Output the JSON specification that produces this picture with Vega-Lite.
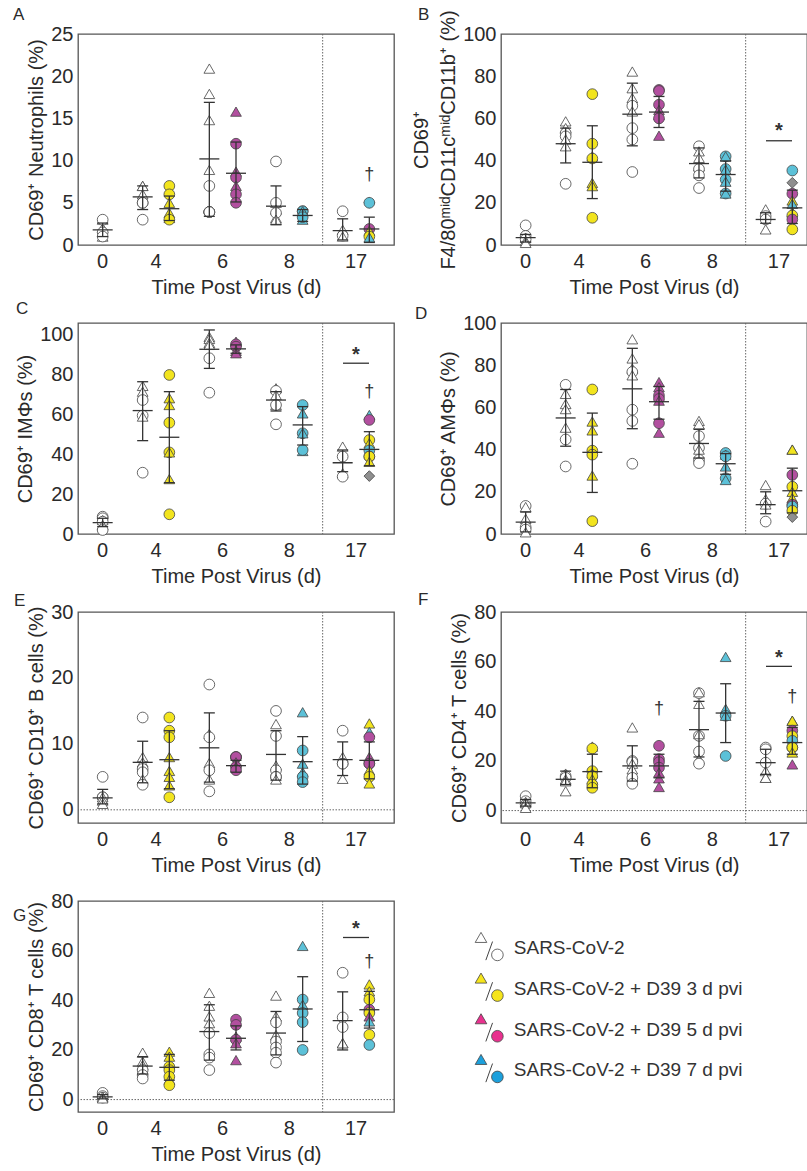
{
"$schema": "https://vega.github.io/schema/vega-lite/v6.json",
"background": "white",
"padding": {"left": 12, "top": 5, "right": 0, "bottom": 0},
"config": {
 "font": "Liberation Sans",
 "view": {"stroke": "#555555", "strokeWidth": 1.3},
 "axis": {"domain": false, "ticks": false, "grid": false, "labelFontSize": 20, "titleFontSize": 20, "labelColor": "#2a2a2a", "titleColor": "#2a2a2a", "titleFontWeight": "normal", "labelFont": "Liberation Sans", "titleFont": "Liberation Sans"},
 "axisX": {"labelPadding": 6, "titlePadding": 6, "labelAngle": 0},
 "axisY": {"labelPadding": 5, "titlePadding": 4},
 "title": {"fontSize": 17, "fontWeight": "normal", "anchor": "start", "frame": "group", "color": "#2a2a2a", "font": "Liberation Sans"}
},
"datasets": {
"pts": [
{"p":"A","d":0,"g":"V","c":"w","s":"t","v":3.0},{"p":"A","d":0,"g":"V","c":"w","s":"t","v":2.0},{"p":"A","d":0,"g":"V","c":"w","s":"t","v":1.0},{"p":"A","d":0,"g":"V","c":"w","s":"o","v":3.0},{"p":"A","d":0,"g":"V","c":"w","s":"o","v":1.5},{"p":"A","d":0,"g":"V","c":"w","s":"o","v":1.0},
{"p":"A","d":4,"g":"V","c":"w","s":"t","v":7.0},{"p":"A","d":4,"g":"V","c":"w","s":"t","v":7.0},{"p":"A","d":4,"g":"V","c":"w","s":"t","v":6.0},{"p":"A","d":4,"g":"V","c":"w","s":"o","v":5.0},{"p":"A","d":4,"g":"V","c":"w","s":"o","v":5.0},{"p":"A","d":4,"g":"V","c":"w","s":"o","v":3.0},
{"p":"A","d":4,"g":"T","c":"y","s":"o","v":7.0},{"p":"A","d":4,"g":"T","c":"y","s":"o","v":6.0},{"p":"A","d":4,"g":"T","c":"y","s":"t","v":5.0},{"p":"A","d":4,"g":"T","c":"y","s":"t","v":3.8},{"p":"A","d":4,"g":"T","c":"y","s":"t","v":3.2},{"p":"A","d":4,"g":"T","c":"y","s":"o","v":3.0},
{"p":"A","d":6,"g":"V","c":"w","s":"t","v":20.9},{"p":"A","d":6,"g":"V","c":"w","s":"t","v":17.9},{"p":"A","d":6,"g":"V","c":"w","s":"t","v":14.8},{"p":"A","d":6,"g":"V","c":"w","s":"t","v":8.9},{"p":"A","d":6,"g":"V","c":"w","s":"o","v":7.0},{"p":"A","d":6,"g":"V","c":"w","s":"o","v":3.9},{"p":"A","d":6,"g":"V","c":"w","s":"o","v":3.9},{"p":"A","d":6,"g":"V","c":"w","s":"o","v":3.9},{"p":"A","d":6,"g":"V","c":"w","s":"o","v":3.9},
{"p":"A","d":6,"g":"T","c":"m","s":"t","v":15.8},{"p":"A","d":6,"g":"T","c":"m","s":"o","v":12.0},{"p":"A","d":6,"g":"T","c":"m","s":"t","v":8.7},{"p":"A","d":6,"g":"T","c":"m","s":"o","v":8.0},{"p":"A","d":6,"g":"T","c":"m","s":"t","v":7.0},{"p":"A","d":6,"g":"T","c":"m","s":"o","v":6.0},{"p":"A","d":6,"g":"T","c":"m","s":"o","v":5.0},
{"p":"A","d":8,"g":"V","c":"w","s":"o","v":9.9},{"p":"A","d":8,"g":"V","c":"w","s":"t","v":5.0},{"p":"A","d":8,"g":"V","c":"w","s":"o","v":5.0},{"p":"A","d":8,"g":"V","c":"w","s":"t","v":4.2},{"p":"A","d":8,"g":"V","c":"w","s":"t","v":3.2},{"p":"A","d":8,"g":"V","c":"w","s":"o","v":3.8},{"p":"A","d":8,"g":"V","c":"w","s":"t","v":3.0},
{"p":"A","d":8,"g":"T","c":"c","s":"o","v":4.0},{"p":"A","d":8,"g":"T","c":"c","s":"o","v":4.0},{"p":"A","d":8,"g":"T","c":"c","s":"t","v":4.0},{"p":"A","d":8,"g":"T","c":"c","s":"t","v":3.0},{"p":"A","d":8,"g":"T","c":"c","s":"o","v":3.3},
{"p":"A","d":17,"g":"V","c":"w","s":"o","v":4.0},{"p":"A","d":17,"g":"V","c":"w","s":"t","v":1.8},{"p":"A","d":17,"g":"V","c":"w","s":"o","v":1.1},{"p":"A","d":17,"g":"V","c":"w","s":"t","v":1.0},
{"p":"A","d":17,"g":"T","c":"g","s":"d","v":5.0},{"p":"A","d":17,"g":"T","c":"c","s":"o","v":5.0},{"p":"A","d":17,"g":"T","c":"m","s":"o","v":1.9},{"p":"A","d":17,"g":"T","c":"y","s":"t","v":1.7},{"p":"A","d":17,"g":"T","c":"y","s":"o","v":1.0},{"p":"A","d":17,"g":"T","c":"c","s":"t","v":0.9},

{"p":"B","d":0,"g":"V","c":"w","s":"o","v":9.3},{"p":"B","d":0,"g":"V","c":"w","s":"o","v":4.3},{"p":"B","d":0,"g":"V","c":"w","s":"t","v":3.5},{"p":"B","d":0,"g":"V","c":"w","s":"o","v":2.7},{"p":"B","d":0,"g":"V","c":"w","s":"t","v":1.9},{"p":"B","d":0,"g":"V","c":"w","s":"t","v":1.0},
{"p":"B","d":4,"g":"V","c":"w","s":"t","v":58.6},{"p":"B","d":4,"g":"V","c":"w","s":"t","v":55.4},{"p":"B","d":4,"g":"V","c":"w","s":"o","v":53},{"p":"B","d":4,"g":"V","c":"w","s":"o","v":51.5},{"p":"B","d":4,"g":"V","c":"w","s":"t","v":50},{"p":"B","d":4,"g":"V","c":"w","s":"t","v":46.8},{"p":"B","d":4,"g":"V","c":"w","s":"o","v":29},
{"p":"B","d":4,"g":"T","c":"y","s":"o","v":71.5},{"p":"B","d":4,"g":"T","c":"y","s":"o","v":48},{"p":"B","d":4,"g":"T","c":"y","s":"t","v":42},{"p":"B","d":4,"g":"T","c":"y","s":"o","v":41},{"p":"B","d":4,"g":"T","c":"y","s":"t","v":29.4},{"p":"B","d":4,"g":"T","c":"y","s":"t","v":27.9},{"p":"B","d":4,"g":"T","c":"y","s":"o","v":12.9},
{"p":"B","d":6,"g":"V","c":"w","s":"t","v":82.2},{"p":"B","d":6,"g":"V","c":"w","s":"t","v":74.3},{"p":"B","d":6,"g":"V","c":"w","s":"t","v":69.6},{"p":"B","d":6,"g":"V","c":"w","s":"o","v":66},{"p":"B","d":6,"g":"V","c":"w","s":"t","v":63.3},{"p":"B","d":6,"g":"V","c":"w","s":"o","v":55.4},{"p":"B","d":6,"g":"V","c":"w","s":"o","v":50},{"p":"B","d":6,"g":"V","c":"w","s":"o","v":34.6},
{"p":"B","d":6,"g":"T","c":"m","s":"o","v":73.5},{"p":"B","d":6,"g":"T","c":"m","s":"o","v":73},{"p":"B","d":6,"g":"T","c":"m","s":"o","v":66.5},{"p":"B","d":6,"g":"T","c":"m","s":"t","v":64},{"p":"B","d":6,"g":"T","c":"m","s":"t","v":61.7},{"p":"B","d":6,"g":"T","c":"m","s":"o","v":60},{"p":"B","d":6,"g":"T","c":"m","s":"t","v":51.8},
{"p":"B","d":8,"g":"V","c":"w","s":"o","v":46.8},{"p":"B","d":8,"g":"V","c":"w","s":"t","v":44.4},{"p":"B","d":8,"g":"V","c":"w","s":"t","v":41.3},{"p":"B","d":8,"g":"V","c":"w","s":"t","v":37.3},{"p":"B","d":8,"g":"V","c":"w","s":"o","v":36},{"p":"B","d":8,"g":"V","c":"w","s":"o","v":33},{"p":"B","d":8,"g":"V","c":"w","s":"o","v":27},
{"p":"B","d":8,"g":"T","c":"c","s":"o","v":42},{"p":"B","d":8,"g":"T","c":"c","s":"t","v":42},{"p":"B","d":8,"g":"T","c":"c","s":"o","v":36},{"p":"B","d":8,"g":"T","c":"c","s":"t","v":35.7},{"p":"B","d":8,"g":"T","c":"c","s":"o","v":31},{"p":"B","d":8,"g":"T","c":"c","s":"t","v":30},{"p":"B","d":8,"g":"T","c":"c","s":"o","v":24.4},{"p":"B","d":8,"g":"T","c":"c","s":"t","v":24.4},
{"p":"B","d":17,"g":"V","c":"w","s":"t","v":16.9},{"p":"B","d":17,"g":"V","c":"w","s":"o","v":13.7},{"p":"B","d":17,"g":"V","c":"w","s":"o","v":12.1},{"p":"B","d":17,"g":"V","c":"w","s":"t","v":7.4},
{"p":"B","d":17,"g":"T","c":"c","s":"o","v":35.3},{"p":"B","d":17,"g":"T","c":"g","s":"d","v":29.5},{"p":"B","d":17,"g":"T","c":"m","s":"o","v":24.3},{"p":"B","d":17,"g":"T","c":"y","s":"t","v":21.1},{"p":"B","d":17,"g":"T","c":"c","s":"t","v":19.5},{"p":"B","d":17,"g":"T","c":"y","s":"t","v":15.6},{"p":"B","d":17,"g":"T","c":"y","s":"o","v":14},{"p":"B","d":17,"g":"T","c":"m","s":"o","v":12.1},{"p":"B","d":17,"g":"T","c":"y","s":"o","v":7.4},

{"p":"C","d":0,"g":"V","c":"w","s":"o","v":8.7},{"p":"C","d":0,"g":"V","c":"w","s":"o","v":7.9},{"p":"C","d":0,"g":"V","c":"w","s":"t","v":7.0},{"p":"C","d":0,"g":"V","c":"w","s":"o","v":6.2},{"p":"C","d":0,"g":"V","c":"w","s":"t","v":4.5},{"p":"C","d":0,"g":"V","c":"w","s":"o","v":2.0},
{"p":"C","d":4,"g":"V","c":"w","s":"t","v":74.4},{"p":"C","d":4,"g":"V","c":"w","s":"t","v":71.5},{"p":"C","d":4,"g":"V","c":"w","s":"o","v":67.3},{"p":"C","d":4,"g":"V","c":"w","s":"o","v":59.5},{"p":"C","d":4,"g":"V","c":"w","s":"t","v":59},{"p":"C","d":4,"g":"V","c":"w","s":"o","v":30.8},
{"p":"C","d":4,"g":"T","c":"y","s":"o","v":79.9},{"p":"C","d":4,"g":"T","c":"y","s":"t","v":68.2},{"p":"C","d":4,"g":"T","c":"y","s":"t","v":64.8},{"p":"C","d":4,"g":"T","c":"y","s":"o","v":55.9},{"p":"C","d":4,"g":"T","c":"y","s":"o","v":41},{"p":"C","d":4,"g":"T","c":"y","s":"t","v":41},{"p":"C","d":4,"g":"T","c":"y","s":"t","v":27.6},{"p":"C","d":4,"g":"T","c":"y","s":"o","v":9.9},
{"p":"C","d":6,"g":"V","c":"w","s":"t","v":99},{"p":"C","d":6,"g":"V","c":"w","s":"t","v":98},{"p":"C","d":6,"g":"V","c":"w","s":"t","v":96},{"p":"C","d":6,"g":"V","c":"w","s":"t","v":95},{"p":"C","d":6,"g":"V","c":"w","s":"o","v":88.3},{"p":"C","d":6,"g":"V","c":"w","s":"o","v":71},
{"p":"C","d":6,"g":"T","c":"m","s":"t","v":96.6},{"p":"C","d":6,"g":"T","c":"m","s":"o","v":95.3},{"p":"C","d":6,"g":"T","c":"m","s":"o","v":94.1},{"p":"C","d":6,"g":"T","c":"m","s":"t","v":92},{"p":"C","d":6,"g":"T","c":"m","s":"t","v":90.8},
{"p":"C","d":8,"g":"V","c":"w","s":"t","v":73.2},{"p":"C","d":8,"g":"V","c":"w","s":"o","v":71.9},{"p":"C","d":8,"g":"V","c":"w","s":"t","v":69.8},{"p":"C","d":8,"g":"V","c":"w","s":"t","v":64.8},{"p":"C","d":8,"g":"V","c":"w","s":"o","v":64.8},{"p":"C","d":8,"g":"V","c":"w","s":"o","v":55.1},
{"p":"C","d":8,"g":"T","c":"c","s":"o","v":64.8},{"p":"C","d":8,"g":"T","c":"c","s":"t","v":60.6},{"p":"C","d":8,"g":"T","c":"c","s":"o","v":50.6},{"p":"C","d":8,"g":"T","c":"c","s":"t","v":50.6},{"p":"C","d":8,"g":"T","c":"c","s":"t","v":41.7},{"p":"C","d":8,"g":"T","c":"c","s":"o","v":42.2},
{"p":"C","d":17,"g":"V","c":"w","s":"t","v":43.9},{"p":"C","d":17,"g":"V","c":"w","s":"o","v":38.9},{"p":"C","d":17,"g":"V","c":"w","s":"t","v":30.5},{"p":"C","d":17,"g":"V","c":"w","s":"o","v":28.8},
{"p":"C","d":17,"g":"T","c":"c","s":"t","v":59.8},{"p":"C","d":17,"g":"T","c":"m","s":"o","v":57.3},{"p":"C","d":17,"g":"T","c":"y","s":"o","v":47.2},{"p":"C","d":17,"g":"T","c":"y","s":"t","v":45.6},{"p":"C","d":17,"g":"T","c":"c","s":"o","v":42},{"p":"C","d":17,"g":"T","c":"m","s":"o","v":38.9},{"p":"C","d":17,"g":"T","c":"y","s":"o","v":38.9},{"p":"C","d":17,"g":"T","c":"y","s":"t","v":36.3},{"p":"C","d":17,"g":"T","c":"g","s":"d","v":29.1},

{"p":"D","d":0,"g":"V","c":"w","s":"o","v":13.3},{"p":"D","d":0,"g":"V","c":"w","s":"t","v":12.8},{"p":"D","d":0,"g":"V","c":"w","s":"t","v":7.2},{"p":"D","d":0,"g":"V","c":"w","s":"o","v":3.2},{"p":"D","d":0,"g":"V","c":"w","s":"o","v":2.1},{"p":"D","d":0,"g":"V","c":"w","s":"t","v":0.8},
{"p":"D","d":4,"g":"V","c":"w","s":"o","v":70.7},{"p":"D","d":4,"g":"V","c":"w","s":"t","v":66.4},{"p":"D","d":4,"g":"V","c":"w","s":"t","v":61.6},{"p":"D","d":4,"g":"V","c":"w","s":"t","v":59.2},{"p":"D","d":4,"g":"V","c":"w","s":"t","v":50.4},{"p":"D","d":4,"g":"V","c":"w","s":"o","v":44.8},{"p":"D","d":4,"g":"V","c":"w","s":"o","v":32},
{"p":"D","d":4,"g":"T","c":"y","s":"o","v":68.5},{"p":"D","d":4,"g":"T","c":"y","s":"t","v":53.3},{"p":"D","d":4,"g":"T","c":"y","s":"t","v":49.1},{"p":"D","d":4,"g":"T","c":"y","s":"o","v":39.5},{"p":"D","d":4,"g":"T","c":"y","s":"o","v":37.6},{"p":"D","d":4,"g":"T","c":"y","s":"t","v":27.7},{"p":"D","d":4,"g":"T","c":"y","s":"o","v":6.1},
{"p":"D","d":6,"g":"V","c":"w","s":"t","v":92.3},{"p":"D","d":6,"g":"V","c":"w","s":"t","v":83.2},{"p":"D","d":6,"g":"V","c":"w","s":"t","v":78.4},{"p":"D","d":6,"g":"V","c":"w","s":"o","v":76.8},{"p":"D","d":6,"g":"V","c":"w","s":"t","v":75.2},{"p":"D","d":6,"g":"V","c":"w","s":"o","v":58.9},{"p":"D","d":6,"g":"V","c":"w","s":"o","v":53.6},{"p":"D","d":6,"g":"V","c":"w","s":"o","v":33.3},
{"p":"D","d":6,"g":"T","c":"m","s":"t","v":72},{"p":"D","d":6,"g":"T","c":"m","s":"t","v":69.6},{"p":"D","d":6,"g":"T","c":"m","s":"o","v":65.6},{"p":"D","d":6,"g":"T","c":"m","s":"o","v":64},{"p":"D","d":6,"g":"T","c":"m","s":"t","v":63.2},{"p":"D","d":6,"g":"T","c":"m","s":"o","v":52.5},{"p":"D","d":6,"g":"T","c":"m","s":"t","v":48},
{"p":"D","d":8,"g":"V","c":"w","s":"t","v":53.6},{"p":"D","d":8,"g":"V","c":"w","s":"t","v":52},{"p":"D","d":8,"g":"V","c":"w","s":"o","v":46.4},{"p":"D","d":8,"g":"V","c":"w","s":"o","v":40.8},{"p":"D","d":8,"g":"V","c":"w","s":"t","v":40},{"p":"D","d":8,"g":"V","c":"w","s":"o","v":35.2},{"p":"D","d":8,"g":"V","c":"w","s":"o","v":33.6},
{"p":"D","d":8,"g":"T","c":"c","s":"o","v":38.4},{"p":"D","d":8,"g":"T","c":"c","s":"t","v":37.6},{"p":"D","d":8,"g":"T","c":"c","s":"o","v":36.8},{"p":"D","d":8,"g":"T","c":"c","s":"t","v":32},{"p":"D","d":8,"g":"T","c":"c","s":"o","v":26.4},{"p":"D","d":8,"g":"T","c":"c","s":"t","v":25.6},
{"p":"D","d":17,"g":"V","c":"w","s":"t","v":23.2},{"p":"D","d":17,"g":"V","c":"w","s":"t","v":16.5},{"p":"D","d":17,"g":"V","c":"w","s":"o","v":14.4},{"p":"D","d":17,"g":"V","c":"w","s":"t","v":14},{"p":"D","d":17,"g":"V","c":"w","s":"o","v":5.9},
{"p":"D","d":17,"g":"T","c":"c","s":"t","v":40},{"p":"D","d":17,"g":"T","c":"y","s":"t","v":40},{"p":"D","d":17,"g":"T","c":"m","s":"o","v":28},{"p":"D","d":17,"g":"T","c":"y","s":"o","v":22.4},{"p":"D","d":17,"g":"T","c":"y","s":"t","v":20},{"p":"D","d":17,"g":"T","c":"y","s":"t","v":17},{"p":"D","d":17,"g":"T","c":"m","s":"o","v":13.9},{"p":"D","d":17,"g":"T","c":"c","s":"o","v":13.1},{"p":"D","d":17,"g":"T","c":"y","s":"o","v":11},{"p":"D","d":17,"g":"T","c":"g","s":"d","v":8},

{"p":"E","d":0,"g":"V","c":"w","s":"o","v":5.0},{"p":"E","d":0,"g":"V","c":"w","s":"o","v":1.9},{"p":"E","d":0,"g":"V","c":"w","s":"o","v":1.9},{"p":"E","d":0,"g":"V","c":"w","s":"t","v":1.9},{"p":"E","d":0,"g":"V","c":"w","s":"t","v":1.4},{"p":"E","d":0,"g":"V","c":"w","s":"t","v":0.9},
{"p":"E","d":4,"g":"V","c":"w","s":"o","v":14},{"p":"E","d":4,"g":"V","c":"w","s":"t","v":8},{"p":"E","d":4,"g":"V","c":"w","s":"t","v":7.2},{"p":"E","d":4,"g":"V","c":"w","s":"o","v":6.2},{"p":"E","d":4,"g":"V","c":"w","s":"o","v":5.7},{"p":"E","d":4,"g":"V","c":"w","s":"t","v":4.6},{"p":"E","d":4,"g":"V","c":"w","s":"o","v":3.8},
{"p":"E","d":4,"g":"T","c":"y","s":"o","v":14},{"p":"E","d":4,"g":"T","c":"y","s":"o","v":12},{"p":"E","d":4,"g":"T","c":"y","s":"o","v":11},{"p":"E","d":4,"g":"T","c":"y","s":"t","v":8},{"p":"E","d":4,"g":"T","c":"y","s":"t","v":5.9},{"p":"E","d":4,"g":"T","c":"y","s":"t","v":5},{"p":"E","d":4,"g":"T","c":"y","s":"t","v":3.7},{"p":"E","d":4,"g":"T","c":"y","s":"o","v":1.9},
{"p":"E","d":6,"g":"V","c":"w","s":"o","v":19},{"p":"E","d":6,"g":"V","c":"w","s":"t","v":11.5},{"p":"E","d":6,"g":"V","c":"w","s":"o","v":11},{"p":"E","d":6,"g":"V","c":"w","s":"t","v":7.1},{"p":"E","d":6,"g":"V","c":"w","s":"o","v":6},{"p":"E","d":6,"g":"V","c":"w","s":"t","v":4.6},{"p":"E","d":6,"g":"V","c":"w","s":"o","v":2.8},
{"p":"E","d":6,"g":"T","c":"m","s":"o","v":8},{"p":"E","d":6,"g":"T","c":"m","s":"o","v":8},{"p":"E","d":6,"g":"T","c":"m","s":"o","v":8},{"p":"E","d":6,"g":"T","c":"m","s":"t","v":7.2},{"p":"E","d":6,"g":"T","c":"m","s":"o","v":6.5},{"p":"E","d":6,"g":"T","c":"m","s":"t","v":6.5},{"p":"E","d":6,"g":"T","c":"m","s":"o","v":6},
{"p":"E","d":8,"g":"V","c":"w","s":"o","v":15},{"p":"E","d":8,"g":"V","c":"w","s":"t","v":13},{"p":"E","d":8,"g":"V","c":"w","s":"o","v":11.2},{"p":"E","d":8,"g":"V","c":"w","s":"t","v":6.7},{"p":"E","d":8,"g":"V","c":"w","s":"o","v":6},{"p":"E","d":8,"g":"V","c":"w","s":"o","v":5},{"p":"E","d":8,"g":"V","c":"w","s":"o","v":5},{"p":"E","d":8,"g":"V","c":"w","s":"t","v":4.6},
{"p":"E","d":8,"g":"T","c":"c","s":"t","v":14.8},{"p":"E","d":8,"g":"T","c":"c","s":"o","v":9},{"p":"E","d":8,"g":"T","c":"c","s":"t","v":7},{"p":"E","d":8,"g":"T","c":"c","s":"t","v":5.7},{"p":"E","d":8,"g":"T","c":"c","s":"o","v":5},{"p":"E","d":8,"g":"T","c":"c","s":"o","v":4.2},
{"p":"E","d":17,"g":"V","c":"w","s":"o","v":12},{"p":"E","d":17,"g":"V","c":"w","s":"t","v":8},{"p":"E","d":17,"g":"V","c":"w","s":"o","v":7},{"p":"E","d":17,"g":"V","c":"w","s":"o","v":7},{"p":"E","d":17,"g":"V","c":"w","s":"t","v":4.7},
{"p":"E","d":17,"g":"T","c":"y","s":"t","v":13.1},{"p":"E","d":17,"g":"T","c":"c","s":"t","v":11.8},{"p":"E","d":17,"g":"T","c":"m","s":"o","v":11},{"p":"E","d":17,"g":"T","c":"m","s":"t","v":8},{"p":"E","d":17,"g":"T","c":"c","s":"o","v":7},{"p":"E","d":17,"g":"T","c":"m","s":"o","v":7},{"p":"E","d":17,"g":"T","c":"y","s":"t","v":6},{"p":"E","d":17,"g":"T","c":"y","s":"o","v":5},{"p":"E","d":17,"g":"T","c":"y","s":"t","v":4},

{"p":"F","d":0,"g":"V","c":"w","s":"o","v":5.8},{"p":"F","d":0,"g":"V","c":"w","s":"o","v":3.8},{"p":"F","d":0,"g":"V","c":"w","s":"o","v":2.4},{"p":"F","d":0,"g":"V","c":"w","s":"t","v":3.5},{"p":"F","d":0,"g":"V","c":"w","s":"t","v":3.0},{"p":"F","d":0,"g":"V","c":"w","s":"t","v":1.1},
{"p":"F","d":4,"g":"V","c":"w","s":"t","v":14.9},{"p":"F","d":4,"g":"V","c":"w","s":"o","v":13.9},{"p":"F","d":4,"g":"V","c":"w","s":"o","v":13.2},{"p":"F","d":4,"g":"V","c":"w","s":"t","v":12.6},{"p":"F","d":4,"g":"V","c":"w","s":"t","v":11.8},{"p":"F","d":4,"g":"V","c":"w","s":"t","v":7.8},
{"p":"F","d":4,"g":"T","c":"y","s":"t","v":25.8},{"p":"F","d":4,"g":"T","c":"y","s":"o","v":25},{"p":"F","d":4,"g":"T","c":"y","s":"o","v":15.9},{"p":"F","d":4,"g":"T","c":"y","s":"t","v":15},{"p":"F","d":4,"g":"T","c":"y","s":"o","v":13.9},{"p":"F","d":4,"g":"T","c":"y","s":"t","v":12.6},{"p":"F","d":4,"g":"T","c":"y","s":"o","v":10.5},{"p":"F","d":4,"g":"T","c":"y","s":"o","v":9.2},
{"p":"F","d":6,"g":"V","c":"w","s":"t","v":33.5},{"p":"F","d":6,"g":"V","c":"w","s":"o","v":20},{"p":"F","d":6,"g":"V","c":"w","s":"o","v":19.5},{"p":"F","d":6,"g":"V","c":"w","s":"t","v":18.9},{"p":"F","d":6,"g":"V","c":"w","s":"t","v":16.6},{"p":"F","d":6,"g":"V","c":"w","s":"o","v":13.2},{"p":"F","d":6,"g":"V","c":"w","s":"o","v":10.8},
{"p":"F","d":6,"g":"T","c":"m","s":"o","v":26.1},{"p":"F","d":6,"g":"T","c":"m","s":"o","v":20.7},{"p":"F","d":6,"g":"T","c":"m","s":"o","v":19.5},{"p":"F","d":6,"g":"T","c":"m","s":"o","v":17.3},{"p":"F","d":6,"g":"T","c":"m","s":"t","v":15.3},{"p":"F","d":6,"g":"T","c":"m","s":"t","v":13},{"p":"F","d":6,"g":"T","c":"m","s":"t","v":9.5},
{"p":"F","d":8,"g":"V","c":"w","s":"o","v":47.3},{"p":"F","d":8,"g":"V","c":"w","s":"t","v":47.7},{"p":"F","d":8,"g":"V","c":"w","s":"t","v":43},{"p":"F","d":8,"g":"V","c":"w","s":"o","v":30.1},{"p":"F","d":8,"g":"V","c":"w","s":"t","v":30.8},{"p":"F","d":8,"g":"V","c":"w","s":"o","v":23.8},{"p":"F","d":8,"g":"V","c":"w","s":"t","v":20.7},{"p":"F","d":8,"g":"V","c":"w","s":"o","v":18.9},
{"p":"F","d":8,"g":"T","c":"c","s":"t","v":61.9},{"p":"F","d":8,"g":"T","c":"c","s":"t","v":41},{"p":"F","d":8,"g":"T","c":"c","s":"o","v":38.2},{"p":"F","d":8,"g":"T","c":"c","s":"t","v":38.2},{"p":"F","d":8,"g":"T","c":"c","s":"o","v":22},
{"p":"F","d":17,"g":"V","c":"w","s":"o","v":25.4},{"p":"F","d":17,"g":"V","c":"w","s":"o","v":24.7},{"p":"F","d":17,"g":"V","c":"w","s":"o","v":19.3},{"p":"F","d":17,"g":"V","c":"w","s":"t","v":15.9},{"p":"F","d":17,"g":"V","c":"w","s":"t","v":13.2},{"p":"F","d":17,"g":"V","c":"w","s":"t","v":13.2},
{"p":"F","d":17,"g":"T","c":"c","s":"t","v":36.2},{"p":"F","d":17,"g":"T","c":"y","s":"t","v":36.2},{"p":"F","d":17,"g":"T","c":"m","s":"o","v":32.2},{"p":"F","d":17,"g":"T","c":"y","s":"o","v":30},{"p":"F","d":17,"g":"T","c":"c","s":"o","v":28.1},{"p":"F","d":17,"g":"T","c":"m","s":"o","v":25.4},{"p":"F","d":17,"g":"T","c":"y","s":"o","v":25.4},{"p":"F","d":17,"g":"T","c":"y","s":"t","v":23.4},{"p":"F","d":17,"g":"T","c":"m","s":"t","v":18.6},

{"p":"G","d":0,"g":"V","c":"w","s":"o","v":2.7},{"p":"G","d":0,"g":"V","c":"w","s":"o","v":1.4},{"p":"G","d":0,"g":"V","c":"w","s":"o","v":0.8},{"p":"G","d":0,"g":"V","c":"w","s":"t","v":1.1},{"p":"G","d":0,"g":"V","c":"w","s":"t","v":0.5},
{"p":"G","d":4,"g":"V","c":"w","s":"t","v":18.9},{"p":"G","d":4,"g":"V","c":"w","s":"t","v":15.3},{"p":"G","d":4,"g":"V","c":"w","s":"t","v":13.9},{"p":"G","d":4,"g":"V","c":"w","s":"o","v":11.9},{"p":"G","d":4,"g":"V","c":"w","s":"o","v":9.9},{"p":"G","d":4,"g":"V","c":"w","s":"o","v":8.5},
{"p":"G","d":4,"g":"T","c":"y","s":"t","v":19.3},{"p":"G","d":4,"g":"T","c":"y","s":"t","v":17.3},{"p":"G","d":4,"g":"T","c":"y","s":"o","v":13.2},{"p":"G","d":4,"g":"T","c":"y","s":"o","v":11.9},{"p":"G","d":4,"g":"T","c":"y","s":"o","v":9.2},{"p":"G","d":4,"g":"T","c":"y","s":"t","v":8},{"p":"G","d":4,"g":"T","c":"y","s":"o","v":5.8},
{"p":"G","d":6,"g":"V","c":"w","s":"t","v":43},{"p":"G","d":6,"g":"V","c":"w","s":"t","v":37.8},{"p":"G","d":6,"g":"V","c":"w","s":"t","v":33.5},{"p":"G","d":6,"g":"V","c":"w","s":"t","v":30.8},{"p":"G","d":6,"g":"V","c":"w","s":"o","v":26.8},{"p":"G","d":6,"g":"V","c":"w","s":"o","v":18.2},{"p":"G","d":6,"g":"V","c":"w","s":"o","v":16.9},{"p":"G","d":6,"g":"V","c":"w","s":"o","v":11.9},
{"p":"G","d":6,"g":"T","c":"m","s":"o","v":32.2},{"p":"G","d":6,"g":"T","c":"m","s":"o","v":30.1},{"p":"G","d":6,"g":"T","c":"m","s":"t","v":25.4},{"p":"G","d":6,"g":"T","c":"m","s":"o","v":24.1},{"p":"G","d":6,"g":"T","c":"m","s":"t","v":22.7},{"p":"G","d":6,"g":"T","c":"m","s":"t","v":15.9},
{"p":"G","d":8,"g":"V","c":"w","s":"t","v":41.9},{"p":"G","d":8,"g":"V","c":"w","s":"t","v":33.5},{"p":"G","d":8,"g":"V","c":"w","s":"t","v":26},{"p":"G","d":8,"g":"V","c":"w","s":"o","v":31.1},{"p":"G","d":8,"g":"V","c":"w","s":"o","v":23.4},{"p":"G","d":8,"g":"V","c":"w","s":"o","v":21},{"p":"G","d":8,"g":"V","c":"w","s":"o","v":18.9},{"p":"G","d":8,"g":"V","c":"w","s":"o","v":14.9},
{"p":"G","d":8,"g":"T","c":"c","s":"t","v":61.9},{"p":"G","d":8,"g":"T","c":"c","s":"o","v":40.3},{"p":"G","d":8,"g":"T","c":"c","s":"t","v":38.2},{"p":"G","d":8,"g":"T","c":"c","s":"o","v":34.9},{"p":"G","d":8,"g":"T","c":"c","s":"o","v":31.2},{"p":"G","d":8,"g":"T","c":"c","s":"o","v":20},
{"p":"G","d":17,"g":"V","c":"w","s":"o","v":51.1},{"p":"G","d":17,"g":"V","c":"w","s":"o","v":33.1},{"p":"G","d":17,"g":"V","c":"w","s":"o","v":29.2},{"p":"G","d":17,"g":"V","c":"w","s":"t","v":22.7},{"p":"G","d":17,"g":"V","c":"w","s":"t","v":22.7},
{"p":"G","d":17,"g":"T","c":"y","s":"t","v":46.4},{"p":"G","d":17,"g":"T","c":"y","s":"t","v":43.6},{"p":"G","d":17,"g":"T","c":"y","s":"o","v":40.3},{"p":"G","d":17,"g":"T","c":"m","s":"o","v":36.2},{"p":"G","d":17,"g":"T","c":"y","s":"o","v":34.9},{"p":"G","d":17,"g":"T","c":"m","s":"t","v":33.5},{"p":"G","d":17,"g":"T","c":"c","s":"t","v":31.5},{"p":"G","d":17,"g":"T","c":"y","s":"o","v":26.1},{"p":"G","d":17,"g":"T","c":"c","s":"o","v":22}
],
"sum": [
{"p":"A","d":0,"g":"V","m":1.8,"lo":1.0,"hi":2.6},{"p":"A","d":4,"g":"V","m":5.7,"lo":4.2,"hi":7.0},{"p":"A","d":4,"g":"T","m":4.3,"lo":2.9,"hi":5.8},{"p":"A","d":6,"g":"V","m":10.2,"lo":3.4,"hi":16.9},{"p":"A","d":6,"g":"T","m":8.5,"lo":5.1,"hi":12.2},{"p":"A","d":8,"g":"V","m":4.6,"lo":2.4,"hi":7.0},{"p":"A","d":8,"g":"T","m":3.5,"lo":2.8,"hi":4.2},{"p":"A","d":17,"g":"V","m":1.7,"lo":0.6,"hi":3.1},{"p":"A","d":17,"g":"T","m":1.9,"lo":0.3,"hi":3.3},
{"p":"B","d":0,"g":"V","m":3.5,"lo":1.4,"hi":5.0},{"p":"B","d":4,"g":"V","m":48,"lo":38.9,"hi":55.4},{"p":"B","d":4,"g":"T","m":39.2,"lo":22,"hi":56.5},{"p":"B","d":6,"g":"V","m":62,"lo":47,"hi":76.7},{"p":"B","d":6,"g":"T","m":63,"lo":55.7,"hi":70.4},{"p":"B","d":8,"g":"V","m":38.6,"lo":31.8,"hi":46},{"p":"B","d":8,"g":"T","m":33.4,"lo":25.5,"hi":39.8},{"p":"B","d":17,"g":"V","m":12.1,"lo":10.3,"hi":15.3},{"p":"B","d":17,"g":"T","m":17.6,"lo":10.2,"hi":26},
{"p":"C","d":0,"g":"V","m":5.7,"lo":3.7,"hi":7.9},{"p":"C","d":4,"g":"V","m":62,"lo":46.9,"hi":76.5},{"p":"C","d":4,"g":"T","m":48.6,"lo":25.8,"hi":71.5},{"p":"C","d":6,"g":"V","m":92.8,"lo":83.2,"hi":102.5},{"p":"C","d":6,"g":"T","m":93,"lo":90.8,"hi":95},{"p":"C","d":8,"g":"V","m":67.3,"lo":61.8,"hi":71.5},{"p":"C","d":8,"g":"T","m":54.8,"lo":44.7,"hi":64},{"p":"C","d":17,"g":"V","m":35.8,"lo":31.3,"hi":42.2},{"p":"C","d":17,"g":"T","m":42.5,"lo":34.3,"hi":51.4},
{"p":"D","d":0,"g":"V","m":5.6,"lo":1.0,"hi":10.4},{"p":"D","d":4,"g":"V","m":55,"lo":41.6,"hi":68.5},{"p":"D","d":4,"g":"T","m":38.7,"lo":19.7,"hi":57.3},{"p":"D","d":6,"g":"V","m":68.8,"lo":49.9,"hi":88},{"p":"D","d":6,"g":"T","m":62.7,"lo":54.4,"hi":69.9},{"p":"D","d":8,"g":"V","m":42.9,"lo":36,"hi":49.6},{"p":"D","d":8,"g":"T","m":33.3,"lo":28.3,"hi":38.1},{"p":"D","d":17,"g":"V","m":13.9,"lo":9.6,"hi":20},{"p":"D","d":17,"g":"T","m":20.5,"lo":10,"hi":31.2},
{"p":"E","d":0,"g":"V","m":1.8,"lo":0.9,"hi":3.1},{"p":"E","d":4,"g":"V","m":7.2,"lo":4.1,"hi":10.4},{"p":"E","d":4,"g":"T","m":7.6,"lo":3.2,"hi":12},{"p":"E","d":6,"g":"V","m":9.4,"lo":4.2,"hi":14.7},{"p":"E","d":6,"g":"T","m":6.7,"lo":5.7,"hi":7.5},{"p":"E","d":8,"g":"V","m":8.4,"lo":4.5,"hi":12},{"p":"E","d":8,"g":"T","m":7.3,"lo":3.9,"hi":11.1},{"p":"E","d":17,"g":"V","m":7.6,"lo":5.2,"hi":10.3},{"p":"E","d":17,"g":"T","m":7.5,"lo":4.7,"hi":10.3},
{"p":"F","d":0,"g":"V","m":3.1,"lo":1.8,"hi":4.5},{"p":"F","d":4,"g":"V","m":12.6,"lo":10.5,"hi":15.9},{"p":"F","d":4,"g":"T","m":15.7,"lo":9.2,"hi":22.7},{"p":"F","d":6,"g":"V","m":18,"lo":11.9,"hi":26.1},{"p":"F","d":6,"g":"T","m":18,"lo":13.2,"hi":22.7},{"p":"F","d":8,"g":"V","m":32.6,"lo":21.6,"hi":44},{"p":"F","d":8,"g":"T","m":39.3,"lo":27.4,"hi":51.1},{"p":"F","d":17,"g":"V","m":19.3,"lo":14.6,"hi":24.7},{"p":"F","d":17,"g":"T","m":27.4,"lo":22.7,"hi":33.5},
{"p":"G","d":0,"g":"V","m":1.1,"lo":0.3,"hi":2.0},{"p":"G","d":4,"g":"V","m":13.5,"lo":10.3,"hi":17.3},{"p":"G","d":4,"g":"T","m":13,"lo":7.8,"hi":18.2},{"p":"G","d":6,"g":"V","m":27.4,"lo":15.9,"hi":38.2},{"p":"G","d":6,"g":"T","m":24.7,"lo":20,"hi":29.7},{"p":"G","d":8,"g":"V","m":26.8,"lo":18,"hi":35.5},{"p":"G","d":8,"g":"T","m":36.5,"lo":23.4,"hi":49.5},{"p":"G","d":17,"g":"V","m":31.8,"lo":20,"hi":43.4},{"p":"G","d":17,"g":"T","m":36.2,"lo":28.8,"hi":43.6}
],
"ann": [
{"p":"A","d":17,"g":"T","t":"†","v":8.3},
{"p":"B","d":17,"g":"","t":"*","v":53.8},
{"p":"C","d":17,"g":"","t":"*","v":90},{"p":"C","d":17,"g":"T","t":"†","v":71.5},
{"p":"F","d":6,"g":"T","t":"†","v":41},{"p":"F","d":17,"g":"","t":"*","v":61.6},{"p":"F","d":17,"g":"T","t":"†","v":45.7},
{"p":"G","d":17,"g":"","t":"*","v":68.9},{"p":"G","d":17,"g":"T","t":"†","v":55.4}
],
"sig": [
{"p":"B","d":17,"g":"","v":49.4},{"p":"C","d":17,"g":"","v":85.8},{"p":"F","d":17,"g":"","v":58.1},{"p":"G","d":17,"g":"","v":65.3}
],
"leg": [
{"lab":"SARS-CoV-2"},{"lab":"SARS-CoV-2 + D39 3 d pvi"},{"lab":"SARS-CoV-2 + D39 5 d pvi"},{"lab":"SARS-CoV-2 + D39 7 d pvi"}
]
},
"columns": 2,
"spacing": {"row": 78, "column": 107},
"bounds": "flush",
"resolve": {"scale": {"fill": "independent", "shape": "independent"}},
"concat": [
{
 "width": 316, "height": 211,
 "title": {"text": "A", "dx": -65, "offset": 0},
 "layer": [
  {"data": {"values": [{}]}, "mark": {"type": "rule", "strokeDash": [1.5, 1.5], "color": "#666", "strokeWidth": 1}, "encoding": {"x": {"datum": "d1", "type": "nominal", "bandPosition": 1}}},
  {"data": {"name": "pts"}, "transform": [{"filter": "datum.p == 'A'"}, {"calculate": "datum.d == 0 ? '0' : datum.d + datum.g", "as": "slot"}],
   "mark": {"type": "point", "filled": true, "size": 115, "stroke": "#444", "strokeWidth": 0.8, "opacity": 1},
   "encoding": {
    "x": {"field": "slot", "type": "nominal", "scale": {"type": "band", "domain": ["pre","0","a1","a2","4V","4","4T","b1","b2","6V","6","6T","c1","c2","8V","8","8T","d1","d2","17V","17","17T","post"], "paddingInner": 0, "paddingOuter": 0.35}, "axis": {"values": ["0","4","6","8","17"], "title": "Time Post Virus (d)"}},
    "y": {"field": "v", "type": "quantitative", "scale": {"domain": [0, 25], "nice": false, "zero": false}, "axis": {"values": [0,5,10,15,20,25], "title": "CD69⁺ Neutrophils (%)"}},
    "shape": {"field": "s", "type": "nominal", "scale": {"domain": ["t","o","d"], "range": ["triangle-up","circle","diamond"]}, "legend": null},
    "fill": {"field": "c", "type": "nominal", "scale": {"domain": ["w","y","m","c","g"], "range": ["#ffffff","#f2e41e","#b24f9f","#5cc1d8","#8f8f8f"]}, "legend": null}
   }},
  {"data": {"name": "sum"}, "transform": [{"filter": "datum.p == 'A'"}, {"calculate": "datum.d == 0 ? '0' : datum.d + datum.g", "as": "slot"}], "mark": {"type": "rule", "color": "#333", "strokeWidth": 1.3}, "encoding": {"x": {"field": "slot", "type": "nominal"}, "y": {"field": "lo", "type": "quantitative"}, "y2": {"field": "hi"}}},
  {"data": {"name": "sum"}, "transform": [{"filter": "datum.p == 'A'"}, {"calculate": "datum.d == 0 ? '0' : datum.d + datum.g", "as": "slot"}], "mark": {"type": "tick", "orient": "horizontal", "size": 20, "thickness": 1.3, "color": "#333", "opacity": 1}, "encoding": {"x": {"field": "slot", "type": "nominal"}, "y": {"field": "m", "type": "quantitative"}}},
  {"data": {"name": "sum"}, "transform": [{"filter": "datum.p == 'A'"}, {"calculate": "datum.d == 0 ? '0' : datum.d + datum.g", "as": "slot"}], "mark": {"type": "tick", "orient": "horizontal", "size": 11, "thickness": 1.3, "color": "#333", "opacity": 1}, "encoding": {"x": {"field": "slot", "type": "nominal"}, "y": {"field": "lo", "type": "quantitative"}}},
  {"data": {"name": "sum"}, "transform": [{"filter": "datum.p == 'A'"}, {"calculate": "datum.d == 0 ? '0' : datum.d + datum.g", "as": "slot"}], "mark": {"type": "tick", "orient": "horizontal", "size": 11, "thickness": 1.3, "color": "#333", "opacity": 1}, "encoding": {"x": {"field": "slot", "type": "nominal"}, "y": {"field": "hi", "type": "quantitative"}}},
  {"data": {"name": "ann"}, "transform": [{"filter": "datum.p == 'A' && datum.t != '*'"}, {"calculate": "datum.d + datum.g", "as": "slot"}], "mark": {"type": "text", "fontSize": 18, "baseline": "middle", "color": "#333"}, "encoding": {"x": {"field": "slot", "type": "nominal"}, "y": {"field": "v", "type": "quantitative"}, "text": {"field": "t"}}}
 ]
},
{
 "width": 306, "height": 211,
 "title": {"text": "B", "dx": -83, "offset": -14},
 "layer": [
  {"data": {"values": [{}]}, "mark": {"type": "rule", "strokeDash": [1.5, 1.5], "color": "#666", "strokeWidth": 1}, "encoding": {"x": {"datum": "d1", "type": "nominal", "bandPosition": 1}}},
  {"data": {"name": "pts"}, "transform": [{"filter": "datum.p == 'B'"}, {"calculate": "datum.d == 0 ? '0' : datum.d + datum.g", "as": "slot"}],
   "mark": {"type": "point", "filled": true, "size": 115, "stroke": "#444", "strokeWidth": 0.8, "opacity": 1},
   "encoding": {
    "x": {"field": "slot", "type": "nominal", "scale": {"type": "band", "domain": ["0","a1","a2","4V","4","4T","b1","b2","6V","6","6T","c1","c2","8V","8","8T","d1","d2","17V","17","17T"], "paddingInner": 0, "paddingOuter": 0.975, "align": 0.692}, "axis": {"values": ["0","4","6","8","17"], "title": "Time Post Virus (d)"}},
    "y": {"field": "v", "type": "quantitative", "scale": {"domain": [0, 100], "nice": false, "zero": false}, "axis": {"values": [0,20,40,60,80,100], "title": ["CD69⁺", "F4/80ᵐⁱᵈCD11cᵐⁱᵈCD11b⁺ (%)"], "titleLineHeight": 27}},
    "shape": {"field": "s", "type": "nominal", "scale": {"domain": ["t","o","d"], "range": ["triangle-up","circle","diamond"]}, "legend": null},
    "fill": {"field": "c", "type": "nominal", "scale": {"domain": ["w","y","m","c","g"], "range": ["#ffffff","#f2e41e","#b24f9f","#5cc1d8","#8f8f8f"]}, "legend": null}
   }},
  {"data": {"name": "sum"}, "transform": [{"filter": "datum.p == 'B'"}, {"calculate": "datum.d == 0 ? '0' : datum.d + datum.g", "as": "slot"}], "mark": {"type": "rule", "color": "#333", "strokeWidth": 1.3}, "encoding": {"x": {"field": "slot", "type": "nominal"}, "y": {"field": "lo", "type": "quantitative"}, "y2": {"field": "hi"}}},
  {"data": {"name": "sum"}, "transform": [{"filter": "datum.p == 'B'"}, {"calculate": "datum.d == 0 ? '0' : datum.d + datum.g", "as": "slot"}], "mark": {"type": "tick", "orient": "horizontal", "size": 20, "thickness": 1.3, "color": "#333", "opacity": 1}, "encoding": {"x": {"field": "slot", "type": "nominal"}, "y": {"field": "m", "type": "quantitative"}}},
  {"data": {"name": "sum"}, "transform": [{"filter": "datum.p == 'B'"}, {"calculate": "datum.d == 0 ? '0' : datum.d + datum.g", "as": "slot"}], "mark": {"type": "tick", "orient": "horizontal", "size": 11, "thickness": 1.3, "color": "#333", "opacity": 1}, "encoding": {"x": {"field": "slot", "type": "nominal"}, "y": {"field": "lo", "type": "quantitative"}}},
  {"data": {"name": "sum"}, "transform": [{"filter": "datum.p == 'B'"}, {"calculate": "datum.d == 0 ? '0' : datum.d + datum.g", "as": "slot"}], "mark": {"type": "tick", "orient": "horizontal", "size": 11, "thickness": 1.3, "color": "#333", "opacity": 1}, "encoding": {"x": {"field": "slot", "type": "nominal"}, "y": {"field": "hi", "type": "quantitative"}}},
  {"data": {"name": "sig"}, "transform": [{"filter": "datum.p == 'B'"}, {"calculate": "datum.d + datum.g", "as": "slot"}], "mark": {"type": "tick", "orient": "horizontal", "size": 26, "thickness": 1.3, "color": "#333", "opacity": 1}, "encoding": {"x": {"field": "slot", "type": "nominal"}, "y": {"field": "v", "type": "quantitative"}}},
  {"data": {"name": "ann"}, "transform": [{"filter": "datum.p == 'B' && datum.t == '*'"}, {"calculate": "datum.d + datum.g", "as": "slot"}], "mark": {"type": "text", "fontSize": 20, "fontWeight": "bold", "baseline": "middle", "color": "#333"}, "encoding": {"x": {"field": "slot", "type": "nominal"}, "y": {"field": "v", "type": "quantitative"}, "text": {"field": "t"}}}
 ]
},
{
 "width": 316, "height": 211,
 "title": {"text": "C", "dx": -62, "offset": 5},
 "layer": [
  {"data": {"values": [{}]}, "mark": {"type": "rule", "strokeDash": [1.5, 1.5], "color": "#666", "strokeWidth": 1}, "encoding": {"x": {"datum": "d1", "type": "nominal", "bandPosition": 1}}},
  {"data": {"name": "pts"}, "transform": [{"filter": "datum.p == 'C'"}, {"calculate": "datum.d == 0 ? '0' : datum.d + datum.g", "as": "slot"}],
   "mark": {"type": "point", "filled": true, "size": 115, "stroke": "#444", "strokeWidth": 0.8, "opacity": 1},
   "encoding": {
    "x": {"field": "slot", "type": "nominal", "scale": {"type": "band", "domain": ["pre","0","a1","a2","4V","4","4T","b1","b2","6V","6","6T","c1","c2","8V","8","8T","d1","d2","17V","17","17T","post"], "paddingInner": 0, "paddingOuter": 0.35}, "axis": {"values": ["0","4","6","8","17"], "title": "Time Post Virus (d)"}},
    "y": {"field": "v", "type": "quantitative", "scale": {"domain": [0, 106], "nice": false, "zero": false}, "axis": {"values": [0,20,40,60,80,100], "title": "CD69⁺ IMΦs (%)"}},
    "shape": {"field": "s", "type": "nominal", "scale": {"domain": ["t","o","d"], "range": ["triangle-up","circle","diamond"]}, "legend": null},
    "fill": {"field": "c", "type": "nominal", "scale": {"domain": ["w","y","m","c","g"], "range": ["#ffffff","#f2e41e","#b24f9f","#5cc1d8","#8f8f8f"]}, "legend": null}
   }},
  {"data": {"name": "sum"}, "transform": [{"filter": "datum.p == 'C'"}, {"calculate": "datum.d == 0 ? '0' : datum.d + datum.g", "as": "slot"}], "mark": {"type": "rule", "color": "#333", "strokeWidth": 1.3}, "encoding": {"x": {"field": "slot", "type": "nominal"}, "y": {"field": "lo", "type": "quantitative"}, "y2": {"field": "hi"}}},
  {"data": {"name": "sum"}, "transform": [{"filter": "datum.p == 'C'"}, {"calculate": "datum.d == 0 ? '0' : datum.d + datum.g", "as": "slot"}], "mark": {"type": "tick", "orient": "horizontal", "size": 20, "thickness": 1.3, "color": "#333", "opacity": 1}, "encoding": {"x": {"field": "slot", "type": "nominal"}, "y": {"field": "m", "type": "quantitative"}}},
  {"data": {"name": "sum"}, "transform": [{"filter": "datum.p == 'C'"}, {"calculate": "datum.d == 0 ? '0' : datum.d + datum.g", "as": "slot"}], "mark": {"type": "tick", "orient": "horizontal", "size": 11, "thickness": 1.3, "color": "#333", "opacity": 1}, "encoding": {"x": {"field": "slot", "type": "nominal"}, "y": {"field": "lo", "type": "quantitative"}}},
  {"data": {"name": "sum"}, "transform": [{"filter": "datum.p == 'C'"}, {"calculate": "datum.d == 0 ? '0' : datum.d + datum.g", "as": "slot"}], "mark": {"type": "tick", "orient": "horizontal", "size": 11, "thickness": 1.3, "color": "#333", "opacity": 1}, "encoding": {"x": {"field": "slot", "type": "nominal"}, "y": {"field": "hi", "type": "quantitative"}}},
  {"data": {"name": "sig"}, "transform": [{"filter": "datum.p == 'C'"}, {"calculate": "datum.d + datum.g", "as": "slot"}], "mark": {"type": "tick", "orient": "horizontal", "size": 26, "thickness": 1.3, "color": "#333", "opacity": 1}, "encoding": {"x": {"field": "slot", "type": "nominal"}, "y": {"field": "v", "type": "quantitative"}}},
  {"data": {"name": "ann"}, "transform": [{"filter": "datum.p == 'C' && datum.t == '*'"}, {"calculate": "datum.d + datum.g", "as": "slot"}], "mark": {"type": "text", "fontSize": 20, "fontWeight": "bold", "baseline": "middle", "color": "#333"}, "encoding": {"x": {"field": "slot", "type": "nominal"}, "y": {"field": "v", "type": "quantitative"}, "text": {"field": "t"}}},
  {"data": {"name": "ann"}, "transform": [{"filter": "datum.p == 'C' && datum.t != '*'"}, {"calculate": "datum.d + datum.g", "as": "slot"}], "mark": {"type": "text", "fontSize": 18, "baseline": "middle", "color": "#333"}, "encoding": {"x": {"field": "slot", "type": "nominal"}, "y": {"field": "v", "type": "quantitative"}, "text": {"field": "t"}}}
 ]
},
{
 "width": 306, "height": 211,
 "title": {"text": "D", "dx": -86, "offset": -10},
 "layer": [
  {"data": {"values": [{}]}, "mark": {"type": "rule", "strokeDash": [1.5, 1.5], "color": "#666", "strokeWidth": 1}, "encoding": {"x": {"datum": "d1", "type": "nominal", "bandPosition": 1}}},
  {"data": {"name": "pts"}, "transform": [{"filter": "datum.p == 'D'"}, {"calculate": "datum.d == 0 ? '0' : datum.d + datum.g", "as": "slot"}],
   "mark": {"type": "point", "filled": true, "size": 115, "stroke": "#444", "strokeWidth": 0.8, "opacity": 1},
   "encoding": {
    "x": {"field": "slot", "type": "nominal", "scale": {"type": "band", "domain": ["0","a1","a2","4V","4","4T","b1","b2","6V","6","6T","c1","c2","8V","8","8T","d1","d2","17V","17","17T"], "paddingInner": 0, "paddingOuter": 0.975, "align": 0.692}, "axis": {"values": ["0","4","6","8","17"], "title": "Time Post Virus (d)"}},
    "y": {"field": "v", "type": "quantitative", "scale": {"domain": [0, 100], "nice": false, "zero": false}, "axis": {"values": [0,20,40,60,80,100], "title": "CD69⁺ AMΦs (%)"}},
    "shape": {"field": "s", "type": "nominal", "scale": {"domain": ["t","o","d"], "range": ["triangle-up","circle","diamond"]}, "legend": null},
    "fill": {"field": "c", "type": "nominal", "scale": {"domain": ["w","y","m","c","g"], "range": ["#ffffff","#f2e41e","#b24f9f","#5cc1d8","#8f8f8f"]}, "legend": null}
   }},
  {"data": {"name": "sum"}, "transform": [{"filter": "datum.p == 'D'"}, {"calculate": "datum.d == 0 ? '0' : datum.d + datum.g", "as": "slot"}], "mark": {"type": "rule", "color": "#333", "strokeWidth": 1.3}, "encoding": {"x": {"field": "slot", "type": "nominal"}, "y": {"field": "lo", "type": "quantitative"}, "y2": {"field": "hi"}}},
  {"data": {"name": "sum"}, "transform": [{"filter": "datum.p == 'D'"}, {"calculate": "datum.d == 0 ? '0' : datum.d + datum.g", "as": "slot"}], "mark": {"type": "tick", "orient": "horizontal", "size": 20, "thickness": 1.3, "color": "#333", "opacity": 1}, "encoding": {"x": {"field": "slot", "type": "nominal"}, "y": {"field": "m", "type": "quantitative"}}},
  {"data": {"name": "sum"}, "transform": [{"filter": "datum.p == 'D'"}, {"calculate": "datum.d == 0 ? '0' : datum.d + datum.g", "as": "slot"}], "mark": {"type": "tick", "orient": "horizontal", "size": 11, "thickness": 1.3, "color": "#333", "opacity": 1}, "encoding": {"x": {"field": "slot", "type": "nominal"}, "y": {"field": "lo", "type": "quantitative"}}},
  {"data": {"name": "sum"}, "transform": [{"filter": "datum.p == 'D'"}, {"calculate": "datum.d == 0 ? '0' : datum.d + datum.g", "as": "slot"}], "mark": {"type": "tick", "orient": "horizontal", "size": 11, "thickness": 1.3, "color": "#333", "opacity": 1}, "encoding": {"x": {"field": "slot", "type": "nominal"}, "y": {"field": "hi", "type": "quantitative"}}}
 ]
},
{
 "width": 316, "height": 211,
 "title": {"text": "E", "dx": -64, "offset": -8},
 "layer": [
  {"data": {"values": [{}]}, "mark": {"type": "rule", "strokeDash": [1.5, 1.5], "color": "#666", "strokeWidth": 1}, "encoding": {"x": {"datum": "d1", "type": "nominal", "bandPosition": 1}}},
  {"data": {"values": [{}]}, "mark": {"type": "rule", "strokeDash": [1.5, 1.5], "color": "#666", "strokeWidth": 1}, "encoding": {"y": {"datum": 0, "type": "quantitative"}}},
  {"data": {"name": "pts"}, "transform": [{"filter": "datum.p == 'E'"}, {"calculate": "datum.d == 0 ? '0' : datum.d + datum.g", "as": "slot"}],
   "mark": {"type": "point", "filled": true, "size": 115, "stroke": "#444", "strokeWidth": 0.8, "opacity": 1},
   "encoding": {
    "x": {"field": "slot", "type": "nominal", "scale": {"type": "band", "domain": ["pre","0","a1","a2","4V","4","4T","b1","b2","6V","6","6T","c1","c2","8V","8","8T","d1","d2","17V","17","17T","post"], "paddingInner": 0, "paddingOuter": 0.35}, "axis": {"values": ["0","4","6","8","17"], "title": "Time Post Virus (d)"}},
    "y": {"field": "v", "type": "quantitative", "scale": {"domain": [-2, 30], "nice": false, "zero": false}, "axis": {"values": [0,10,20,30], "title": "CD69⁺ CD19⁺ B cells (%)"}},
    "shape": {"field": "s", "type": "nominal", "scale": {"domain": ["t","o","d"], "range": ["triangle-up","circle","diamond"]}, "legend": null},
    "fill": {"field": "c", "type": "nominal", "scale": {"domain": ["w","y","m","c","g"], "range": ["#ffffff","#f2e41e","#b24f9f","#5cc1d8","#8f8f8f"]}, "legend": null}
   }},
  {"data": {"name": "sum"}, "transform": [{"filter": "datum.p == 'E'"}, {"calculate": "datum.d == 0 ? '0' : datum.d + datum.g", "as": "slot"}], "mark": {"type": "rule", "color": "#333", "strokeWidth": 1.3}, "encoding": {"x": {"field": "slot", "type": "nominal"}, "y": {"field": "lo", "type": "quantitative"}, "y2": {"field": "hi"}}},
  {"data": {"name": "sum"}, "transform": [{"filter": "datum.p == 'E'"}, {"calculate": "datum.d == 0 ? '0' : datum.d + datum.g", "as": "slot"}], "mark": {"type": "tick", "orient": "horizontal", "size": 20, "thickness": 1.3, "color": "#333", "opacity": 1}, "encoding": {"x": {"field": "slot", "type": "nominal"}, "y": {"field": "m", "type": "quantitative"}}},
  {"data": {"name": "sum"}, "transform": [{"filter": "datum.p == 'E'"}, {"calculate": "datum.d == 0 ? '0' : datum.d + datum.g", "as": "slot"}], "mark": {"type": "tick", "orient": "horizontal", "size": 11, "thickness": 1.3, "color": "#333", "opacity": 1}, "encoding": {"x": {"field": "slot", "type": "nominal"}, "y": {"field": "lo", "type": "quantitative"}}},
  {"data": {"name": "sum"}, "transform": [{"filter": "datum.p == 'E'"}, {"calculate": "datum.d == 0 ? '0' : datum.d + datum.g", "as": "slot"}], "mark": {"type": "tick", "orient": "horizontal", "size": 11, "thickness": 1.3, "color": "#333", "opacity": 1}, "encoding": {"x": {"field": "slot", "type": "nominal"}, "y": {"field": "hi", "type": "quantitative"}}}
 ]
},
{
 "width": 306, "height": 211,
 "title": {"text": "F", "dx": -83, "offset": -7},
 "layer": [
  {"data": {"values": [{}]}, "mark": {"type": "rule", "strokeDash": [1.5, 1.5], "color": "#666", "strokeWidth": 1}, "encoding": {"x": {"datum": "d1", "type": "nominal", "bandPosition": 1}}},
  {"data": {"values": [{}]}, "mark": {"type": "rule", "strokeDash": [1.5, 1.5], "color": "#666", "strokeWidth": 1}, "encoding": {"y": {"datum": 0, "type": "quantitative"}}},
  {"data": {"name": "pts"}, "transform": [{"filter": "datum.p == 'F'"}, {"calculate": "datum.d == 0 ? '0' : datum.d + datum.g", "as": "slot"}],
   "mark": {"type": "point", "filled": true, "size": 115, "stroke": "#444", "strokeWidth": 0.8, "opacity": 1},
   "encoding": {
    "x": {"field": "slot", "type": "nominal", "scale": {"type": "band", "domain": ["0","a1","a2","4V","4","4T","b1","b2","6V","6","6T","c1","c2","8V","8","8T","d1","d2","17V","17","17T"], "paddingInner": 0, "paddingOuter": 0.975, "align": 0.692}, "axis": {"values": ["0","4","6","8","17"], "title": "Time Post Virus (d)"}},
    "y": {"field": "v", "type": "quantitative", "scale": {"domain": [-5, 80], "nice": false, "zero": false}, "axis": {"values": [0,20,40,60,80], "title": "CD69⁺ CD4⁺ T cells (%)"}},
    "shape": {"field": "s", "type": "nominal", "scale": {"domain": ["t","o","d"], "range": ["triangle-up","circle","diamond"]}, "legend": null},
    "fill": {"field": "c", "type": "nominal", "scale": {"domain": ["w","y","m","c","g"], "range": ["#ffffff","#f2e41e","#b24f9f","#5cc1d8","#8f8f8f"]}, "legend": null}
   }},
  {"data": {"name": "sum"}, "transform": [{"filter": "datum.p == 'F'"}, {"calculate": "datum.d == 0 ? '0' : datum.d + datum.g", "as": "slot"}], "mark": {"type": "rule", "color": "#333", "strokeWidth": 1.3}, "encoding": {"x": {"field": "slot", "type": "nominal"}, "y": {"field": "lo", "type": "quantitative"}, "y2": {"field": "hi"}}},
  {"data": {"name": "sum"}, "transform": [{"filter": "datum.p == 'F'"}, {"calculate": "datum.d == 0 ? '0' : datum.d + datum.g", "as": "slot"}], "mark": {"type": "tick", "orient": "horizontal", "size": 20, "thickness": 1.3, "color": "#333", "opacity": 1}, "encoding": {"x": {"field": "slot", "type": "nominal"}, "y": {"field": "m", "type": "quantitative"}}},
  {"data": {"name": "sum"}, "transform": [{"filter": "datum.p == 'F'"}, {"calculate": "datum.d == 0 ? '0' : datum.d + datum.g", "as": "slot"}], "mark": {"type": "tick", "orient": "horizontal", "size": 11, "thickness": 1.3, "color": "#333", "opacity": 1}, "encoding": {"x": {"field": "slot", "type": "nominal"}, "y": {"field": "lo", "type": "quantitative"}}},
  {"data": {"name": "sum"}, "transform": [{"filter": "datum.p == 'F'"}, {"calculate": "datum.d == 0 ? '0' : datum.d + datum.g", "as": "slot"}], "mark": {"type": "tick", "orient": "horizontal", "size": 11, "thickness": 1.3, "color": "#333", "opacity": 1}, "encoding": {"x": {"field": "slot", "type": "nominal"}, "y": {"field": "hi", "type": "quantitative"}}},
  {"data": {"name": "sig"}, "transform": [{"filter": "datum.p == 'F'"}, {"calculate": "datum.d + datum.g", "as": "slot"}], "mark": {"type": "tick", "orient": "horizontal", "size": 26, "thickness": 1.3, "color": "#333", "opacity": 1}, "encoding": {"x": {"field": "slot", "type": "nominal"}, "y": {"field": "v", "type": "quantitative"}}},
  {"data": {"name": "ann"}, "transform": [{"filter": "datum.p == 'F' && datum.t == '*'"}, {"calculate": "datum.d + datum.g", "as": "slot"}], "mark": {"type": "text", "fontSize": 20, "fontWeight": "bold", "baseline": "middle", "color": "#333"}, "encoding": {"x": {"field": "slot", "type": "nominal"}, "y": {"field": "v", "type": "quantitative"}, "text": {"field": "t"}}},
  {"data": {"name": "ann"}, "transform": [{"filter": "datum.p == 'F' && datum.t != '*'"}, {"calculate": "datum.d + datum.g", "as": "slot"}], "mark": {"type": "text", "fontSize": 18, "baseline": "middle", "color": "#333"}, "encoding": {"x": {"field": "slot", "type": "nominal"}, "y": {"field": "v", "type": "quantitative"}, "text": {"field": "t"}}}
 ]
},
{
 "width": 316, "height": 211,
 "title": {"text": "G", "dx": -65, "offset": -34},
 "layer": [
  {"data": {"values": [{}]}, "mark": {"type": "rule", "strokeDash": [1.5, 1.5], "color": "#666", "strokeWidth": 1}, "encoding": {"x": {"datum": "d1", "type": "nominal", "bandPosition": 1}}},
  {"data": {"values": [{}]}, "mark": {"type": "rule", "strokeDash": [1.5, 1.5], "color": "#666", "strokeWidth": 1}, "encoding": {"y": {"datum": 0, "type": "quantitative"}}},
  {"data": {"name": "pts"}, "transform": [{"filter": "datum.p == 'G'"}, {"calculate": "datum.d == 0 ? '0' : datum.d + datum.g", "as": "slot"}],
   "mark": {"type": "point", "filled": true, "size": 115, "stroke": "#444", "strokeWidth": 0.8, "opacity": 1},
   "encoding": {
    "x": {"field": "slot", "type": "nominal", "scale": {"type": "band", "domain": ["pre","0","a1","a2","4V","4","4T","b1","b2","6V","6","6T","c1","c2","8V","8","8T","d1","d2","17V","17","17T","post"], "paddingInner": 0, "paddingOuter": 0.35}, "axis": {"values": ["0","4","6","8","17"], "title": "Time Post Virus (d)"}},
    "y": {"field": "v", "type": "quantitative", "scale": {"domain": [-5, 80], "nice": false, "zero": false}, "axis": {"values": [0,20,40,60,80], "title": "CD69⁺ CD8⁺ T cells (%)"}},
    "shape": {"field": "s", "type": "nominal", "scale": {"domain": ["t","o","d"], "range": ["triangle-up","circle","diamond"]}, "legend": null},
    "fill": {"field": "c", "type": "nominal", "scale": {"domain": ["w","y","m","c","g"], "range": ["#ffffff","#f2e41e","#b24f9f","#5cc1d8","#8f8f8f"]}, "legend": null}
   }},
  {"data": {"name": "sum"}, "transform": [{"filter": "datum.p == 'G'"}, {"calculate": "datum.d == 0 ? '0' : datum.d + datum.g", "as": "slot"}], "mark": {"type": "rule", "color": "#333", "strokeWidth": 1.3}, "encoding": {"x": {"field": "slot", "type": "nominal"}, "y": {"field": "lo", "type": "quantitative"}, "y2": {"field": "hi"}}},
  {"data": {"name": "sum"}, "transform": [{"filter": "datum.p == 'G'"}, {"calculate": "datum.d == 0 ? '0' : datum.d + datum.g", "as": "slot"}], "mark": {"type": "tick", "orient": "horizontal", "size": 20, "thickness": 1.3, "color": "#333", "opacity": 1}, "encoding": {"x": {"field": "slot", "type": "nominal"}, "y": {"field": "m", "type": "quantitative"}}},
  {"data": {"name": "sum"}, "transform": [{"filter": "datum.p == 'G'"}, {"calculate": "datum.d == 0 ? '0' : datum.d + datum.g", "as": "slot"}], "mark": {"type": "tick", "orient": "horizontal", "size": 11, "thickness": 1.3, "color": "#333", "opacity": 1}, "encoding": {"x": {"field": "slot", "type": "nominal"}, "y": {"field": "lo", "type": "quantitative"}}},
  {"data": {"name": "sum"}, "transform": [{"filter": "datum.p == 'G'"}, {"calculate": "datum.d == 0 ? '0' : datum.d + datum.g", "as": "slot"}], "mark": {"type": "tick", "orient": "horizontal", "size": 11, "thickness": 1.3, "color": "#333", "opacity": 1}, "encoding": {"x": {"field": "slot", "type": "nominal"}, "y": {"field": "hi", "type": "quantitative"}}},
  {"data": {"name": "sig"}, "transform": [{"filter": "datum.p == 'G'"}, {"calculate": "datum.d + datum.g", "as": "slot"}], "mark": {"type": "tick", "orient": "horizontal", "size": 26, "thickness": 1.3, "color": "#333", "opacity": 1}, "encoding": {"x": {"field": "slot", "type": "nominal"}, "y": {"field": "v", "type": "quantitative"}}},
  {"data": {"name": "ann"}, "transform": [{"filter": "datum.p == 'G' && datum.t == '*'"}, {"calculate": "datum.d + datum.g", "as": "slot"}], "mark": {"type": "text", "fontSize": 20, "fontWeight": "bold", "baseline": "middle", "color": "#333"}, "encoding": {"x": {"field": "slot", "type": "nominal"}, "y": {"field": "v", "type": "quantitative"}, "text": {"field": "t"}}},
  {"data": {"name": "ann"}, "transform": [{"filter": "datum.p == 'G' && datum.t != '*'"}, {"calculate": "datum.d + datum.g", "as": "slot"}], "mark": {"type": "text", "fontSize": 18, "baseline": "middle", "color": "#333"}, "encoding": {"x": {"field": "slot", "type": "nominal"}, "y": {"field": "v", "type": "quantitative"}, "text": {"field": "t"}}}
 ]
},
{
 "width": 306, "height": 211,
 "view": {"stroke": null},
 "data": {"name": "leg"},
 "layer": [
  {"mark": {"type": "point", "filled": true, "shape": "triangle-up", "size": 135, "stroke": "#444", "strokeWidth": 0.8, "opacity": 1},
   "encoding": {
    "x": {"datum": "tri", "type": "nominal", "scale": {"type": "point", "domain": ["tri","sl","cir","gap","txt"], "range": [-20, 12.8], "padding": 0}, "axis": null},
    "y": {"field": "lab", "type": "nominal", "bandPosition": 0.23, "scale": {"type": "band", "domain": ["SARS-CoV-2","SARS-CoV-2 + D39 3 d pvi","SARS-CoV-2 + D39 5 d pvi","SARS-CoV-2 + D39 7 d pvi"], "paddingInner": 0, "paddingOuter": 0.594, "align": 0.56}, "axis": null},
    "fill": {"field": "lab", "type": "nominal", "scale": {"domain": ["SARS-CoV-2","SARS-CoV-2 + D39 3 d pvi","SARS-CoV-2 + D39 5 d pvi","SARS-CoV-2 + D39 7 d pvi"], "range": ["#ffffff","#f6e51b","#e8318e","#1ca0dc"]}, "legend": null}
   }},
  {"mark": {"type": "point", "filled": false, "shape": "M0.335,-0.93L-0.335,0.93", "size": 400, "stroke": "#444", "strokeWidth": 1, "opacity": 1},
   "encoding": {
    "x": {"datum": "sl", "type": "nominal", "axis": null},
    "y": {"field": "lab", "type": "nominal", "bandPosition": 0.56, "axis": null}
   }},
  {"mark": {"type": "point", "filled": true, "shape": "circle", "size": 135, "stroke": "#444", "strokeWidth": 0.8, "opacity": 1},
   "encoding": {
    "x": {"datum": "cir", "type": "nominal", "axis": null},
    "y": {"field": "lab", "type": "nominal", "bandPosition": 0.66, "axis": null},
    "fill": {"field": "lab", "type": "nominal", "legend": null}
   }},
  {"mark": {"type": "text", "align": "left", "baseline": "middle", "fontSize": 19, "color": "#333"},
   "encoding": {
    "x": {"datum": "txt", "type": "nominal", "axis": null},
    "y": {"field": "lab", "type": "nominal", "bandPosition": 0.5, "axis": null},
    "text": {"field": "lab"}
   }}
 ]
}
]
}
